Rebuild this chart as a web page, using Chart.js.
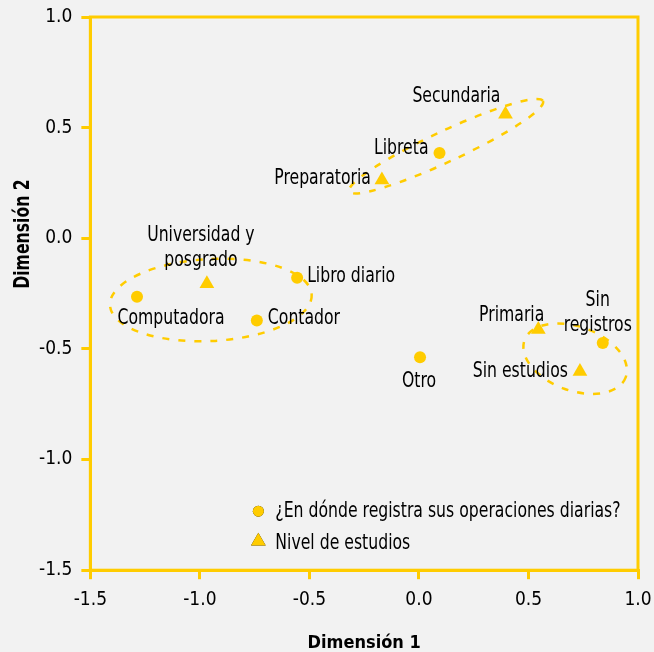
<!DOCTYPE html>
<html>
<head>
<meta charset="utf-8">
<script src="https://cdn.jsdelivr.net/npm/chart.js@4.4.1/dist/chart.umd.min.js"></script>
<style>
  html, body { margin: 0; padding: 0; background: #f2f2f2; }
  #wrap { width: 654px; height: 652px; }
</style>
</head>
<body>
<div id="wrap"><canvas id="mcaChart" width="654" height="652"></canvas></div>
<script>
// ¿En dónde registra sus operaciones diarias?
const regCategories = ["Computadora", "Contador", "Libro diario", "Libreta", "Otro", ["Sin", "registros"]];
const regX = [-1.287, -0.740, -0.556, 0.094, 0.005, 0.839];
const regY = [-0.264, -0.372, -0.178, 0.385, -0.538, -0.473];

// Nivel de estudios
const estCategories = [["Universidad y", "posgrado"], "Preparatoria", "Secundaria", "Primaria", "Sin estudios"];
const estX = [-0.968, -0.169, 0.395, 0.545, 0.735];
const estY = [-0.205, 0.263, 0.561, -0.412, -0.602];

const seriesNames = ["¿En dónde registra sus operaciones diarias?", "Nivel de estudios"];
const xTicks = [-1.5, -1.0, -0.5, 0.0, 0.5, 1.0];
const yTicks = [-1.5, -1.0, -0.5, 0.0, 0.5, 1.0];
const xTitle = "Dimensión 1";
const yTitle = "Dimensión 2";

// dashed groupings: centre, semi-axes (data units) and tilt in degrees
const groups = [
    { cx: -0.950, cy: -0.279, rx: 0.461, ry: 0.187, angle: -3 },
    { cx: 0.124, cy: 0.416, rx: 0.488, ry: 0.070, angle: -25 },
    { cx: 0.713, cy: -0.544, rx: 0.246, ry: 0.146, angle: 20 }
];

const YELLOW = "#ffcc00";
const TEXT = "#000000";
const FONT = "'Liberation Sans Narrow', 'DejaVu Sans Condensed', sans-serif";
const SQUEEZE = 0.83; // narrow the label text a bit more

// where each point label sits relative to its marker
const regLabelPos = [
    { align: "center", dx: 34, dy: 22 },
    { align: "left", dx: 11, dy: -2 },
    { align: "left", dx: 10, dy: -1 },
    { align: "right", dx: -11, dy: -5 },
    { align: "center", dx: -1, dy: 24 },
    { align: "center", dx: -5, dy: -42 }
];
const estLabelPos = [
    { align: "center", dx: -6, dy: -48 },
    { align: "right", dx: -11, dy: -2 },
    { align: "right", dx: -5, dy: -18 },
    { align: "right", dx: 6, dy: -14 },
    { align: "right", dx: -12, dy: 0 }
];

function toPoints(xs, ys) {
    return xs.map((x, i) => ({ x: x, y: ys[i] }));
}

function squeezedText(ctx, text, x, y, align) {
    ctx.save();
    ctx.translate(x, y);
    ctx.scale(SQUEEZE, 1);
    ctx.textAlign = align;
    ctx.fillText(text, 0, 0);
    ctx.restore();
}

const decorPlugin = {
    id: "decor",
    beforeDatasetsDraw(chart) {
        const { ctx, chartArea, scales } = chart;
        const xs = scales.x, ys = scales.y;
        const pxPerUnit = Math.abs(xs.getPixelForValue(1) - xs.getPixelForValue(0));

        // frame
        ctx.save();
        ctx.strokeStyle = YELLOW;
        ctx.lineWidth = 3;
        ctx.strokeRect(chartArea.left, chartArea.top, chartArea.right - chartArea.left, chartArea.bottom - chartArea.top);

        // dashed ellipses
        ctx.setLineDash([7, 9]);
        ctx.lineWidth = 2.5;
        groups.forEach(g => {
            ctx.beginPath();
            ctx.ellipse(xs.getPixelForValue(g.cx), ys.getPixelForValue(g.cy),
                g.rx * pxPerUnit, g.ry * pxPerUnit, g.angle * Math.PI / 180, 0, Math.PI * 2);
            ctx.stroke();
        });
        ctx.restore();
    },
    afterDatasetsDraw(chart) {
        const { ctx, chartArea } = chart;
        ctx.save();
        ctx.fillStyle = TEXT;
        ctx.font = "21px " + FONT;
        ctx.textBaseline = "middle";

        const placements = [regLabelPos, estLabelPos];
        const names = [regCategories, estCategories];
        chart.data.datasets.forEach((ds, di) => {
            const meta = chart.getDatasetMeta(di);
            meta.data.forEach((pt, i) => {
                const pos = placements[di][i];
                const lines = [].concat(names[di][i]);
                lines.forEach((line, li) => {
                    squeezedText(ctx, line, pt.x + pos.dx, pt.y + pos.dy + li * 25, pos.align);
                });
            });
        });

        // legend inside plot
        const legX = chartArea.left + 168;
        const legY = [chartArea.bottom - 59, chartArea.bottom - 27];
        chart.data.datasets.forEach((ds, di) => {
            Chart.helpers.drawPoint(ctx, {
                pointStyle: ds.pointStyle,
                radius: di === 0 ? 5.5 : 8.5,
                rotation: 0
            }, legX, legY[di] - (di === 1 ? 2 : 0));
            ctx.fillStyle = YELLOW;
            ctx.fill();
            ctx.fillStyle = TEXT;
            squeezedText(ctx, ds.label, legX + 17, legY[di], "left");
        });

        // y-axis title
        ctx.font = "bold 21px " + FONT;
        ctx.translate(24, chartArea.top + 217);
        ctx.rotate(-Math.PI / 2);
        squeezedText(ctx, yTitle, 0, 0, "center");
        ctx.restore();
    }
};

const tickFont = { family: FONT, size: 19 };

new Chart(document.getElementById("mcaChart").getContext("2d"), {
    type: "scatter",
    data: {
        datasets: [
            {
                label: seriesNames[0],
                data: toPoints(regX, regY),
                pointStyle: "circle",
                pointRadius: 6,
                backgroundColor: YELLOW,
                borderWidth: 0
            },
            {
                label: seriesNames[1],
                data: toPoints(estX, estY),
                pointStyle: "triangle",
                pointRadius: 8.5,
                backgroundColor: YELLOW,
                borderWidth: 0
            }
        ]
    },
    options: {
        responsive: false,
        animation: false,
        layout: { padding: { left: 30, right: 0, top: 0, bottom: 0 } },
        plugins: {
            legend: { display: false },
            tooltip: { enabled: false }
        },
        scales: {
            x: {
                type: "linear",
                min: xTicks[0],
                max: xTicks[xTicks.length - 1],
                afterBuildTicks: axis => { axis.ticks = xTicks.map(v => ({ value: v })); },
                afterFit: axis => { axis.paddingRight = 16; },
                ticks: {
                    color: TEXT,
                    font: tickFont,
                    padding: 9,
                    callback: v => v.toFixed(1)
                },
                grid: { drawOnChartArea: false, drawTicks: true, tickLength: 9, color: YELLOW, lineWidth: 3 },
                border: { color: YELLOW, width: 3 },
                title: {
                    display: true,
                    text: xTitle,
                    color: TEXT,
                    font: { family: FONT, size: 18, weight: "bold", lineHeight: 1 },
                    padding: { top: 14, bottom: 0 }
                }
            },
            y: {
                type: "linear",
                min: yTicks[0],
                max: yTicks[yTicks.length - 1],
                afterBuildTicks: axis => { axis.ticks = yTicks.map(v => ({ value: v })); },
                afterFit: axis => { axis.paddingTop = 17; },
                ticks: {
                    color: TEXT,
                    font: tickFont,
                    padding: 9,
                    callback: v => v.toFixed(1)
                },
                grid: { drawOnChartArea: false, drawTicks: true, tickLength: 9, color: YELLOW, lineWidth: 3 },
                border: { color: YELLOW, width: 3 }
            }
        }
    },
    plugins: [decorPlugin]
});
</script>
</body>
</html>
